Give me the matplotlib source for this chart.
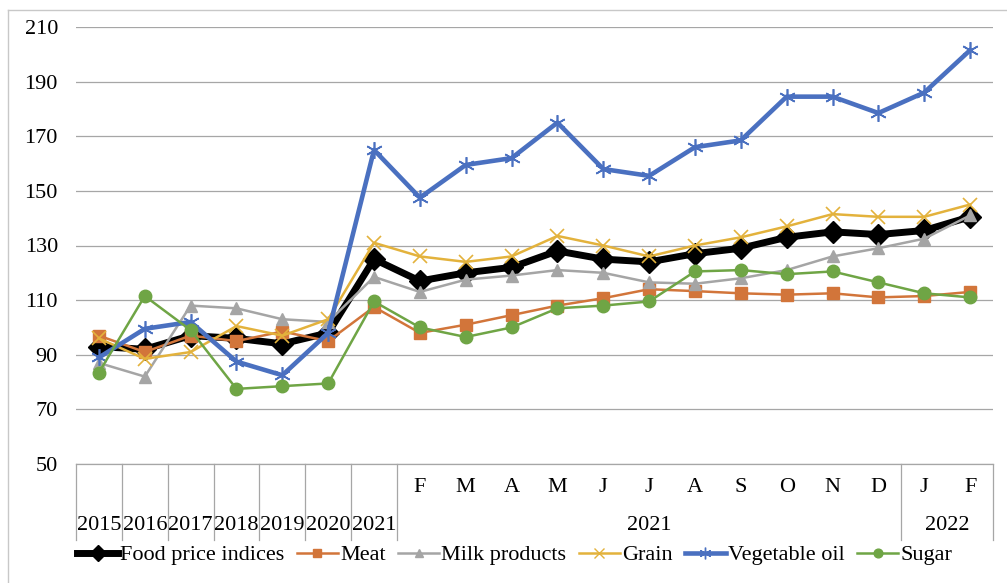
import numpy as np
import matplotlib
matplotlib.use('Agg')
import matplotlib.pyplot as plt
from matplotlib.lines import Line2D

plt.rcParams['font.family'] = ['Liberation Serif', 'DejaVu Serif']

# annual points then monthly 2021 / 2022
years = ['2015', '2016', '2017', '2018', '2019', '2020', '2021']
months_2021 = ['F', 'M', 'A', 'M', 'J', 'J', 'A', 'S', 'O', 'N', 'D']
months_2022 = ['J', 'F']

food = [93, 92, 97, 96, 94, 98, 125,
        117, 120, 122, 128, 125, 124, 127, 129, 133, 135, 134,
        135.5, 140.5]
meat = [97, 91, 97, 95, 98.5, 95, 107.5,
        98, 101, 104.5, 108, 110.7, 114, 113.3, 112.5, 112, 112.5, 111,
        111.5, 113]
milk = [87, 82, 108, 107, 103, 102, 118.5,
        113, 117.5, 119, 121, 120, 116.5, 116, 118, 121, 126, 129,
        132.5, 141]
grain = [96, 88.5, 91, 100.5, 97, 103, 131,
         126, 124, 126, 133.5, 130, 126, 130, 133, 137, 141.5, 140.5,
         140.5, 145]
veg_oil = [89, 99.5, 102, 87.5, 82.5, 98, 165,
           147.5, 159.5, 162, 175, 158, 155.5, 166, 168.5, 184.5, 184.5, 178.5,
           186, 201.5]
sugar = [83.5, 111.5, 99, 77.5, 78.5, 79.5, 109.5,
         100, 96.5, 100, 107, 108, 109.5, 120.5, 121, 119.5, 120.5, 116.5,
         112.5, 111]

series = [
    ('Food price indices', food, 'black', 5.0, 'D', 11),
    ('Meat', meat, '#D2753A', 1.8, 's', 8),
    ('Milk products', milk, '#A5A5A5', 1.8, '^', 9),
    ('Grain', grain, '#E3B23C', 1.8, 'x', 10),
    ('Vegetable oil', veg_oil, '#4A70C0', 3.3, (6, 2, 0), 12),
    ('Sugar', sugar, '#6FA545', 1.8, 'o', 9),
]

FS = 16
W, H = 1007, 583
fig = plt.figure(figsize=(W / 100, H / 100), dpi=100)
ax = fig.add_axes([76 / W, 1 - 464 / H, (993 - 76) / W, (464 - 27) / H])

n = len(years) + len(months_2021) + len(months_2022)
x = np.arange(n)

for name, vals, col, lw, mk, ms in series:
    mew = 1.2 if mk in ('x', (6, 2, 0)) else 1
    ax.plot(x, vals, color=col, lw=lw, marker=mk, markersize=ms,
            markeredgewidth=mew, markeredgecolor=col, markerfacecolor=col,
            label=name, solid_joinstyle='round', clip_on=False)

ax.set_xlim(-0.5, n - 0.5)
ax.set_ylim(50, 210)
ax.set_yticks(np.arange(50, 211, 20))
ax.tick_params(axis='y', length=0, pad=13, labelsize=FS)
ax.set_xticks([])
ax.yaxis.grid(True, color='#A6A6A6', lw=0.9)
ax.set_axisbelow(True)
for s in ['top', 'right', 'left']:
    ax.spines[s].set_visible(False)
ax.spines['bottom'].set_color('#A6A6A6')
ax.spines['bottom'].set_linewidth(0.9)

# category table under the axis
tr = ax.get_xaxis_transform()
ah = 464 - 27
y_line = -(540 - 464) / ah
y_month = -(488 - 464) / ah
y_year = -(526 - 464) / ah

bounds = list(np.arange(len(years) + 1) - 0.5)
bounds += [len(years) + len(months_2021) - 0.5, n - 0.5]
for b in bounds:
    ax.plot([b, b], [0, y_line], transform=tr, color='#A6A6A6', lw=0.9,
            clip_on=False)

for i, yl in enumerate(years):
    ax.text(i, y_year, yl, transform=tr, ha='center', va='center', fontsize=FS)

months = months_2021 + months_2022
for i, m in enumerate(months):
    ax.text(len(years) + i, y_month, m, transform=tr, ha='center',
            va='center', fontsize=FS)

c21 = len(years) + (len(months_2021) - 1) / 2
c22 = len(years) + len(months_2021) + (len(months_2022) - 1) / 2
ax.text(c21, y_year, '2021', transform=tr, ha='center', va='center', fontsize=FS)
ax.text(c22, y_year, '2022', transform=tr, ha='center', va='center', fontsize=FS)

# legend
handles = []
for name, vals, col, lw, mk, ms in series:
    handles.append(Line2D([], [], color=col, lw=lw, marker=mk,
                          markersize=ms * 0.7, markerfacecolor=col,
                          markeredgecolor=col, label=name))
fig.legend(handles=handles, loc='center', bbox_to_anchor=(0.511, 1 - 555 / H),
           ncol=6, frameon=False, fontsize=FS, handlelength=1.85,
           handletextpad=0.1, columnspacing=0.55)

# outer chart border (left and top)
fig.add_artist(Line2D([8 / W, 8 / W], [0, 1 - 10 / H], color='#C8C8C8', lw=1,
                      transform=fig.transFigure))
fig.add_artist(Line2D([8 / W, 1], [1 - 10 / H, 1 - 10 / H], color='#C8C8C8',
                      lw=1, transform=fig.transFigure))

fig.savefig('out.png', dpi=100)
